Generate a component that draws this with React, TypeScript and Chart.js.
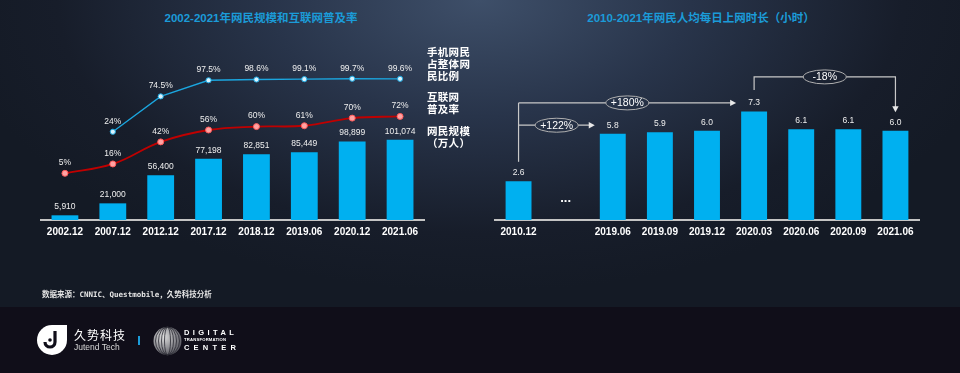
import React, { useEffect, useRef } from 'react';
import { Chart, registerables } from 'chart.js';

Chart.register(...registerables);

// ---------- data ----------
const leftCategories = ['2002.12', '2007.12', '2012.12', '2017.12', '2018.12', '2019.06', '2020.12', '2021.06'];
const netizens = [5910, 21000, 56400, 77198, 82851, 85449, 98899, 101074];
const penetration = [5, 16, 42, 56, 60, 61, 70, 72];
const mobileShare = [null, 24, 74.5, 97.5, 98.6, 99.1, 99.7, 99.6];

const rightCategories = ['2010.12', '', '2019.06', '2019.09', '2019.12', '2020.03', '2020.06', '2020.09', '2021.06'];
const dailyHours = [2.6, null, 5.8, 5.9, 6.0, 7.3, 6.1, 6.1, 6.0];
const changeNotes = [
  { from: 0, to: 2, label: '+122%' },
  { from: 0, to: 5, label: '+180%' },
  { from: 5, to: 8, label: '-18%' },
];

const leftTitle = '2002-2021年网民规模和互联网普及率';
const rightTitle = '2010-2021年网民人均每日上网时长（小时）';
const legendMobile = ['手机网民', '占整体网', '民比例'];
const legendRate = ['互联网', '普及率'];
const legendUsers = ['网民规模', '（万人）'];
const sourceText = '数据来源：CNNIC、Questmobile，久势科技分析';

const FONT = "Arial, 'Liberation Sans', 'Noto Sans CJK SC', sans-serif";
const CJK = "'Noto Sans CJK SC', sans-serif";
const BAR = '#00b0f0';

// ---------- plugins ----------
const leftLabels = {
  id: 'leftLabels',
  afterDatasetsDraw(chart: any) {
    const ctx = chart.ctx;
    ctx.save();
    ctx.font = `8.5px ${FONT}`;
    ctx.fillStyle = '#eeeeee';
    ctx.textAlign = 'center';
    ctx.textBaseline = 'middle';
    chart.data.datasets.forEach((ds: any, di: number) => {
      const meta = chart.getDatasetMeta(di);
      meta.data.forEach((el: any, i: number) => {
        const v = ds.data[i];
        if (v === null || v === undefined) return;
        if (ds.type === 'bar') {
          ctx.fillText(v.toLocaleString('en-US'), el.x, el.y - 8.5);
        } else {
          ctx.fillText(v + '%', el.x, el.y - 10.5);
        }
      });
    });
    ctx.restore();
  },
};

function arrowRight(ctx: any, x: number, y: number) {
  ctx.beginPath();
  ctx.moveTo(x, y);
  ctx.lineTo(x - 6, y - 3.2);
  ctx.lineTo(x - 6, y + 3.2);
  ctx.closePath();
  ctx.fill();
}
function arrowDown(ctx: any, x: number, y: number) {
  ctx.beginPath();
  ctx.moveTo(x, y);
  ctx.lineTo(x - 3.2, y - 6);
  ctx.lineTo(x + 3.2, y - 6);
  ctx.closePath();
  ctx.fill();
}
function note(ctx: any, cx: number, cy: number, text: string) {
  ctx.beginPath();
  ctx.ellipse(cx, cy, 21.5, 7, 0, 0, Math.PI * 2);
  ctx.strokeStyle = '#b0b0b0';
  ctx.lineWidth = 1;
  ctx.stroke();
  ctx.fillStyle = '#ffffff';
  ctx.font = `10.5px ${FONT}`;
  ctx.textAlign = 'center';
  ctx.textBaseline = 'middle';
  ctx.fillText(text, cx, cy + 0.5);
}

const rightLabels = {
  id: 'rightLabels',
  afterDatasetsDraw(chart: any) {
    const ctx = chart.ctx;
    const xs = chart.scales.x;
    const ys = chart.scales.y;
    const meta = chart.getDatasetMeta(0);
    const labelY = (i: number) => ys.getPixelForValue(dailyHours[i] as number) - 8.5;
    ctx.save();
    ctx.font = `8.5px ${FONT}`;
    ctx.fillStyle = '#eeeeee';
    ctx.textAlign = 'center';
    ctx.textBaseline = 'middle';
    meta.data.forEach((el: any, i: number) => {
      const v = dailyHours[i];
      if (v === null) return;
      ctx.fillText(v.toFixed(1), el.x, labelY(i));
    });
    // gap marker
    ctx.font = `bold 13px ${FONT}`;
    ctx.fillStyle = '#ffffff';
    ctx.fillText('...', xs.getPixelForValue(1), ys.bottom - 22);

    ctx.strokeStyle = '#c8c8c8';
    ctx.fillStyle = '#e8e8e8';
    ctx.lineWidth = 1.2;
    const rx = 21.5;
    // growth notes from the first bar
    const x0 = xs.getPixelForValue(changeNotes[0].from);
    const topY = labelY(changeNotes[1].to);
    ctx.beginPath();
    ctx.moveTo(x0, labelY(0) - 11);
    ctx.lineTo(x0, topY);
    ctx.stroke();
    [changeNotes[0], changeNotes[1]].forEach((n) => {
      const y = labelY(n.to);
      const tip = xs.getPixelForValue(n.to) - 18;
      const cx = (x0 + tip) / 2;
      ctx.strokeStyle = '#c8c8c8';
      ctx.lineWidth = 1.2;
      ctx.beginPath();
      ctx.moveTo(x0, y);
      ctx.lineTo(cx - rx, y);
      ctx.moveTo(cx + rx, y);
      ctx.lineTo(tip - 5, y);
      ctx.stroke();
      ctx.fillStyle = '#e8e8e8';
      arrowRight(ctx, tip, y);
      note(ctx, cx, y, n.label);
    });
    // decline note
    const d = changeNotes[2];
    const xa = xs.getPixelForValue(d.from);
    const xb = xs.getPixelForValue(d.to);
    const yTop = labelY(d.from) - 26;
    const tipY = labelY(d.to) - 10;
    const cx = (xa + xb) / 2;
    ctx.strokeStyle = '#c8c8c8';
    ctx.lineWidth = 1.2;
    ctx.beginPath();
    ctx.moveTo(xa, labelY(d.from) - 13);
    ctx.lineTo(xa, yTop);
    ctx.lineTo(cx - rx, yTop);
    ctx.moveTo(cx + rx, yTop);
    ctx.lineTo(xb, yTop);
    ctx.lineTo(xb, tipY - 5);
    ctx.stroke();
    ctx.fillStyle = '#e8e8e8';
    arrowDown(ctx, xb, tipY);
    note(ctx, cx, yTop, d.label);
    ctx.restore();
  },
};

const xAxis = {
  grid: { display: false, drawTicks: false, tickLength: 0 },
  border: { display: true, color: '#c4c4c4', width: 2 },
  ticks: {
    color: '#ffffff',
    font: { family: FONT, size: 10, weight: 'bold' },
    padding: 6,
    maxRotation: 0,
    autoSkip: false,
  },
};

function leftConfig(): any {
  return {
    type: 'bar',
    data: {
      labels: leftCategories,
      datasets: [
        {
          type: 'line',
          label: '手机网民占整体网民比例',
          data: mobileShare,
          yAxisID: 'yMobile',
          borderColor: '#1ba6df',
          borderWidth: 1.3,
          pointRadius: 2.6,
          pointBackgroundColor: '#d9f4ff',
          pointBorderColor: '#1ba6df',
          pointBorderWidth: 1,
          tension: 0,
          order: 0,
        },
        {
          type: 'line',
          label: '互联网普及率',
          data: penetration,
          yAxisID: 'yRate',
          borderColor: '#c00000',
          borderWidth: 1.8,
          pointRadius: 3,
          pointBackgroundColor: '#ffa3a3',
          pointBorderColor: '#ff5a5a',
          pointBorderWidth: 1,
          tension: 0.4,
          order: 0,
        },
        {
          type: 'bar',
          label: '网民规模（万人）',
          data: netizens,
          yAxisID: 'yUsers',
          backgroundColor: BAR,
          barPercentage: 0.56,
          categoryPercentage: 1,
          order: 1,
        },
      ],
    },
    options: {
      responsive: false,
      animation: false,
      layout: { padding: { left: 41, right: 56, top: 40, bottom: 56 } },
      plugins: { legend: { display: false }, tooltip: { enabled: false } },
      scales: {
        x: xAxis,
        yUsers: { display: false, min: 0, max: 227000 },
        yRate: { display: false, min: -50, max: 162 },
        yMobile: { display: false, min: -102, max: 155 },
      },
    },
    plugins: [leftLabels],
  };
}

function rightConfig(): any {
  return {
    type: 'bar',
    data: {
      labels: rightCategories,
      datasets: [
        {
          label: '网民人均每日上网时长',
          data: dailyHours,
          backgroundColor: BAR,
          barPercentage: 0.55,
          categoryPercentage: 1,
        },
      ],
    },
    options: {
      responsive: false,
      animation: false,
      layout: { padding: { left: 15, right: 41, top: 40, bottom: 56 } },
      plugins: { legend: { display: false }, tooltip: { enabled: false } },
      scales: {
        x: xAxis,
        y: { display: false, min: 0, max: 12.1 },
      },
    },
    plugins: [rightLabels],
  };
}

function ChartCanvas({ make, left }: { make: () => any; left: number }) {
  const ref = useRef<HTMLCanvasElement>(null);
  useEffect(() => {
    if (!ref.current) return;
    const c = new Chart(ref.current, make());
    return () => c.destroy();
  }, []);
  return (
    <canvas
      ref={ref}
      width={480}
      height={300}
      style={{ position: 'absolute', left, top: 0, width: 480, height: 300 }}
    />
  );
}

function Legend({ lines, top }: { lines: string[]; top: number }) {
  return (
    <div
      style={{
        position: 'absolute',
        left: 427,
        top,
        color: '#ffffff',
        fontFamily: CJK,
        fontWeight: 700,
        fontSize: 10.5,
        lineHeight: '12px',
        letterSpacing: 0.3,
        whiteSpace: 'nowrap',
      }}
    >
      {lines.map((l, i) => (
        <div key={i}>{l}</div>
      ))}
    </div>
  );
}

export default function App() {
  const titleStyle: any = {
    position: 'absolute',
    top: 10,
    transform: 'translateX(-50%)',
    color: '#1b9bd8',
    fontFamily: FONT,
    fontWeight: 700,
    fontSize: 11.5,
    lineHeight: '16px',
    whiteSpace: 'nowrap',
  };
  return (
    <div
      style={{
        position: 'fixed',
        left: 0,
        top: 0,
        width: 960,
        height: 373,
        overflow: 'hidden',
        background: '#100e19',
      }}
    >
      <div
        style={{
          position: 'absolute',
          left: 0,
          top: 0,
          width: 960,
          height: 307,
          background:
            'radial-gradient(ellipse 55% 95% at 50% 0%, #3e4f69 0%, #28344a 40%, #171d2a 80%, #141a25 100%)',
        }}
      />
      <div style={{ ...titleStyle, left: 261 }}>{leftTitle}</div>
      <div style={{ ...titleStyle, left: 701 }}>{rightTitle}</div>
      <ChartCanvas make={leftConfig} left={0} />
      <ChartCanvas make={rightConfig} left={480} />
      <Legend lines={legendMobile} top={46} />
      <Legend lines={legendRate} top={91} />
      <Legend lines={legendUsers} top={125} />
      <div
        style={{
          position: 'absolute',
          left: 42,
          top: 290,
          color: '#e6e6e6',
          fontFamily: "'DejaVu Sans Mono', 'Noto Sans CJK SC', monospace",
          fontWeight: 700,
          fontSize: 7.5,
          lineHeight: '10px',
          whiteSpace: 'nowrap',
        }}
      >
        {sourceText}
      </div>
      {/* footer logos */}
      <svg style={{ position: 'absolute', left: 36, top: 324 }} width={33} height={32} viewBox="0 0 33 32">
        <path d="M16 1 H31 V16 A15 15 0 1 1 16 1 Z" fill="#ffffff" />
        <path d="M19 7 V18 A5 5 0 0 1 9 18" stroke="#100e19" strokeWidth={3.2} fill="none" />
        <circle cx={14} cy={16} r={1.8} fill="#100e19" />
      </svg>
      <div
        style={{
          position: 'absolute',
          left: 74,
          top: 328,
          color: '#ffffff',
          fontFamily: CJK,
          fontSize: 12,
          lineHeight: '14px',
          letterSpacing: 1,
          whiteSpace: 'nowrap',
        }}
      >
        久势科技
      </div>
      <div
        style={{
          position: 'absolute',
          left: 74,
          top: 342,
          color: '#d8d8d8',
          fontFamily: FONT,
          fontSize: 8.5,
          lineHeight: '10px',
          whiteSpace: 'nowrap',
        }}
      >
        Jutend Tech
      </div>
      <div style={{ position: 'absolute', left: 138, top: 336, width: 2, height: 9, background: '#1b9bd8' }} />
      <svg style={{ position: 'absolute', left: 152, top: 326 }} width={31} height={30} viewBox="0 0 31 30">
        <defs>
          <radialGradient id="gl" cx="35%" cy="35%" r="70%">
            <stop offset="0%" stopColor="#e0e0e0" />
            <stop offset="100%" stopColor="#5a5a62" />
          </radialGradient>
        </defs>
        <circle cx={15.5} cy={15} r={14} fill="url(#gl)" />
        {[3, 6, 9, 12].map((r) => (
          <ellipse key={r} cx={15.5} cy={15} rx={r} ry={14} fill="none" stroke="#2a2a32" strokeWidth={0.8} />
        ))}
      </svg>
      <div
        style={{
          position: 'absolute',
          left: 184,
          top: 328,
          color: '#ffffff',
          fontFamily: FONT,
          fontWeight: 700,
          fontSize: 7.5,
          lineHeight: '9px',
          letterSpacing: 3.4,
          whiteSpace: 'nowrap',
        }}
      >
        DIGITAL
      </div>
      <div
        style={{
          position: 'absolute',
          left: 184,
          top: 337,
          color: '#ffffff',
          fontFamily: FONT,
          fontWeight: 700,
          fontSize: 4.2,
          lineHeight: '6px',
          letterSpacing: 0.2,
          whiteSpace: 'nowrap',
        }}
      >
        TRANSFORMATION
      </div>
      <div
        style={{
          position: 'absolute',
          left: 184,
          top: 343,
          color: '#ffffff',
          fontFamily: FONT,
          fontWeight: 700,
          fontSize: 7.5,
          lineHeight: '9px',
          letterSpacing: 4.2,
          whiteSpace: 'nowrap',
        }}
      >
        CENTER
      </div>
    </div>
  );
}
